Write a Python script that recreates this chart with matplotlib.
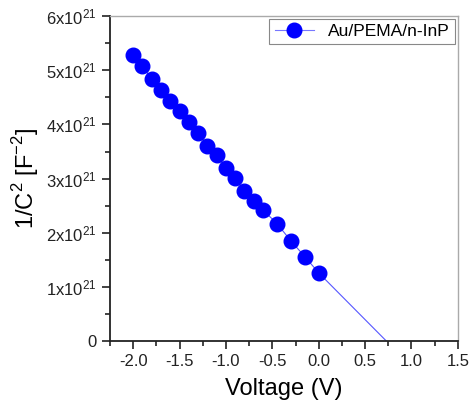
import matplotlib
matplotlib.use('Agg')
import matplotlib.pyplot as plt
import numpy as np
from matplotlib.ticker import MultipleLocator, FuncFormatter

plt.rcParams['font.family'] = 'Liberation Sans'
plt.rcParams['mathtext.fontset'] = 'custom'
plt.rcParams['mathtext.rm'] = 'Liberation Sans'
plt.rcParams['axes.unicode_minus'] = False

# data (1/C^2 in units of 1e21 F^-2)
voltage = [-2.0, -1.9, -1.8, -1.7, -1.6, -1.5, -1.4, -1.3, -1.2, -1.1,
           -1.0, -0.9, -0.8, -0.7, -0.6, -0.45, -0.3, -0.15, 0.0]
inv_c2 = [5.28, 5.08, 4.83, 4.63, 4.43, 4.25, 4.05, 3.85, 3.61, 3.43,
          3.20, 3.01, 2.77, 2.59, 2.42, 2.17, 1.85, 1.56, 1.26]
v_intercept = 0.73
label = 'Au/PEMA/n-InP'

x_ticks = [-2.0, -1.5, -1.0, -0.5, 0.0, 0.5, 1.0, 1.5]
y_ticks = [0, 1, 2, 3, 4, 5, 6]

scale = 1e21
fig = plt.figure(figsize=(4.74, 4.12), dpi=100)
ax = fig.add_axes([0.232, 0.172, 0.734, 0.789])

# thin line through the points, extrapolated down to the voltage axis
ax.plot(list(voltage) + [v_intercept], [v * scale for v in inv_c2] + [0],
        color='#5555ff', lw=0.8, zorder=2)
ax.plot(voltage, [v * scale for v in inv_c2], 'o', color='#0000ff',
        markersize=10.5, zorder=3)
# legend proxy
ax.plot([], [], '-o', color='#7777ff', mfc='#0000ff', mec='#0000ff',
        markersize=10.5, lw=0.8, label=label)

ax.set_xlim(-2.25, 1.5)
ax.set_ylim(0, 6 * scale)
ax.set_xticks(x_ticks)
ax.set_yticks([t * scale for t in y_ticks])
ax.xaxis.set_minor_locator(MultipleLocator(0.25))
ax.yaxis.set_minor_locator(MultipleLocator(0.5 * scale))


def yfmt(v, pos):
    n = int(round(v / scale))
    if n == 0:
        return '0'
    return r'$\mathregular{%dx10^{21}}$' % n


ax.yaxis.set_major_formatter(FuncFormatter(yfmt))
ax.xaxis.set_major_formatter(FuncFormatter(lambda v, p: '%.1f' % v))

ax.tick_params(which='major', direction='out', length=6, width=1.2,
               labelsize=12, colors='#222222')
ax.tick_params(which='minor', direction='out', length=3.5, width=1.2,
               colors='#222222')
for s in ['left', 'bottom']:
    ax.spines[s].set_linewidth(1.3)
    ax.spines[s].set_color('#222222')
for s in ['top', 'right']:
    ax.spines[s].set_linewidth(1.0)
    ax.spines[s].set_color('#aaaaaa')

ax.set_xlabel('Voltage (V)', fontsize=17, labelpad=6)
ax.set_ylabel(r'1/C$^\mathregular{2}$ [F$^\mathregular{-2}$]', fontsize=17,
              labelpad=4)

leg = ax.legend(loc='upper right', fontsize=12.5, fancybox=False,
                edgecolor='#888888', framealpha=1, borderaxespad=0.15,
                handlelength=2.3, borderpad=0.3)
leg.get_frame().set_linewidth(0.8)

fig.savefig('out.png', dpi=100)
